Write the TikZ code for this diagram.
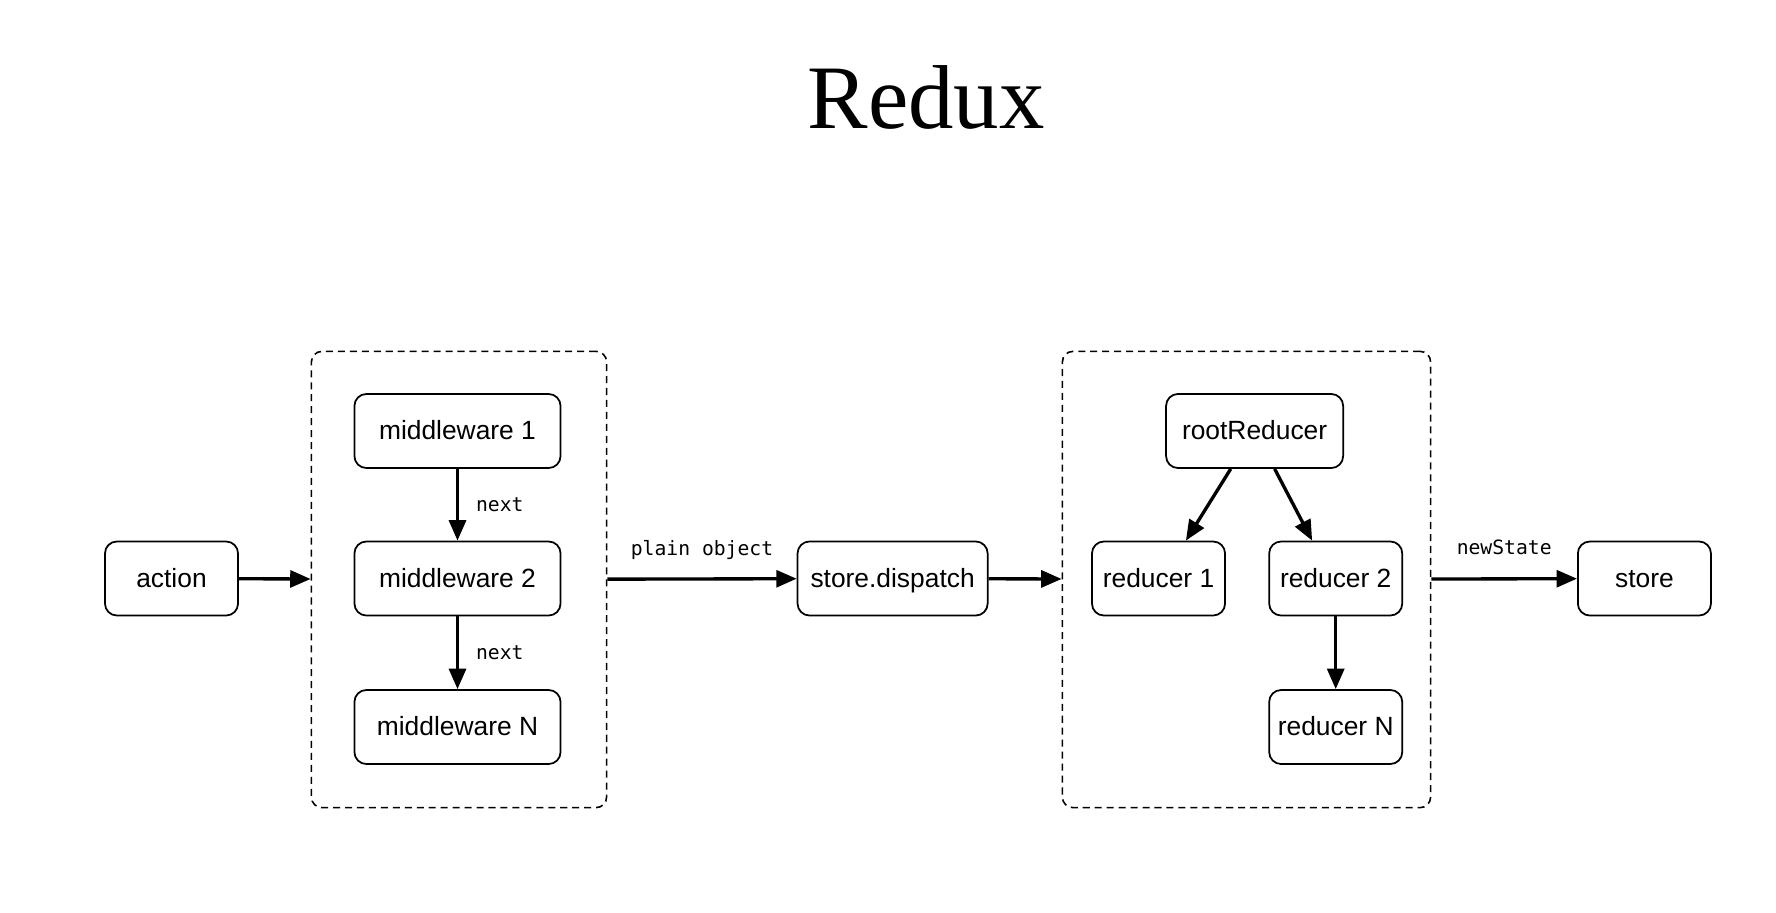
\documentclass[tikz,border=0pt]{standalone}
\usepackage{fontspec}
\setmainfont{Liberation Serif}
\setsansfont{Liberation Sans}
\setmonofont{DejaVu Sans Mono}
\usetikzlibrary{arrows.meta}

\begin{document}
\begin{tikzpicture}
        [x=0.01cm, y=-0.01cm,
         box/.style={draw, rounded corners=3.4pt, line width=0.5pt, inner sep=0, minimum height=0.74cm, text height=0.72em, text depth=0.21em, font=\sffamily\fontsize{7.5pt}{9pt}\selectfont},
         group/.style={draw, dash pattern=on 2pt off 1.4pt, rounded corners=3pt, line width=0.45pt, minimum height=4.56cm},
         flow/.style={line width=0.95pt, -{Triangle[length=5.8pt, width=4.8pt]}},
         lbl/.style={font=\ttfamily\fontsize{5.6pt}{7pt}\selectfont, inner sep=0}]

        \useasboundingbox (0,0) rectangle (1776,912);

        \node[font=\fontsize{25.8pt}{30pt}\selectfont] (title) at (926,97) {Redux};

        \node[group, minimum width=2.95cm] (mwgroup) at (459,579.5) {};
        \node[group, minimum width=3.68cm] (redgroup) at (1246.5,579.5) {};

        \node[box, minimum width=1.33cm] (action) at (171.5,578.5) {action};
        \node[box, minimum width=2.06cm] (mw1) at (457.5,431) {middleware 1};
        \node[box, minimum width=2.06cm] (mw2) at (457.5,578.5) {middleware 2};
        \node[box, minimum width=2.06cm] (mwN) at (457.5,727) {middleware N};
        \node[box, minimum width=1.90cm] (dispatch) at (892.6,578.5) {store.dispatch};
        \node[box, minimum width=1.77cm] (root) at (1254.6,431) {rootReducer};
        \node[box, minimum width=1.33cm] (red1) at (1158.5,578.5) {reducer 1};
        \node[box, minimum width=1.33cm] (red2) at (1335.7,578.5) {reducer 2};
        \node[box, minimum width=1.33cm] (redN) at (1335.7,727) {reducer N};
        \node[box, minimum width=1.33cm] (store) at (1644.4,578.5) {store};

        \draw[flow] (action) -- (mwgroup);
        \draw[flow] (mw1) -- node[lbl, right=4.8pt] {next} (mw2);
        \draw[flow] (mw2) -- node[lbl, right=4.8pt] {next} (mwN);
        \draw[flow] (mwgroup) -- node[lbl, anchor=base, yshift=6.8pt] {plain object} (dispatch);
        \draw[flow] (dispatch) -- (redgroup);
        \draw[flow] ([xshift=-6.8pt]root.south) -- ([xshift=7.8pt]red1.north);
        \draw[flow] ([xshift=5.7pt]root.south) -- ([xshift=-6.7pt]red2.north);
        \draw[flow] (red2) -- (redN);
        \draw[flow] (redgroup) -- node[lbl, anchor=base, yshift=6.8pt] {newState} (store);
      \end{tikzpicture}
\end{document}
